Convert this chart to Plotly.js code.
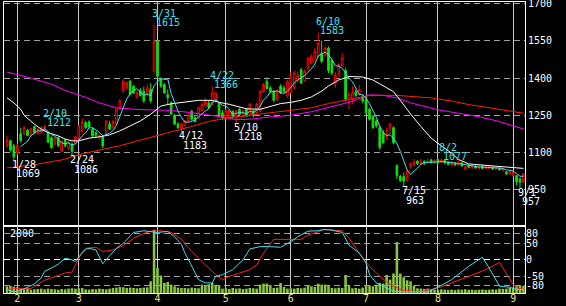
<!DOCTYPE html>
<html><head><meta charset="utf-8">
<script src="https://cdn.plot.ly/plotly-3.0.1.min.js"></script>
<style>html,body{margin:0;padding:0;background:#000;}#chart{width:566px;height:306px;}</style>
</head><body><div id="chart"></div>
<script>
// month ticks (trading-day index of first day of month)
const monthIdx = [3,21,44,64,83,105,126,148];
const monthLabels = ['2','3','4','5','6','7','8','9'];

// daily OHLC
const opens = [1127,1147,1127,1098,1176,1176,1190,1171,1205,1176,
1180,1190,1176,1160,1134,1160,1106,1150,1118,1134,
1136,1158,1185,1220,1223,1194,1180,1160,1163,1176,
1215,1200,1215,1278,1350,1362,1387,1367,1322,1350,
1347,1333,1354,1427,1550,1398,1374,1333,1300,1250,
1215,1195,1210,1228,1266,1240,1240,1270,1290,1300,
1294,1310,1300,1260,1240,1245,1265,1240,1274,1245,
1274,1254,1267,1260,1267,1345,1387,1360,1347,1313,
1367,1360,1327,1340,1360,1390,1433,1390,1440,1460,
1480,1487,1500,1490,1520,1470,1375,1414,1450,1430,
1312,1314,1345,1334,1327,1314,1274,1247,1227,1200,
1180,1165,1198,1200,1047,1005,1003,988,1040,1048,
1065,1052,1065,1058,1070,1058,1072,1060,1068,1062,
1050,1058,1050,1058,1032,1048,1038,1046,1036,1044,
1036,1036,1040,1032,1036,1028,1022,1014,1008,1007,
994,980];
const highs = [1168,1152,1135,1136,1200,1207,1195,1200,1208,1200,
1206,1212,1185,1165,1162,1165,1150,1155,1145,1140,
1167,1210,1238,1228,1230,1200,1185,1175,1170,1230,
1228,1232,1280,1315,1395,1387,1392,1372,1350,1360,
1365,1375,1380,1615,1552,1403,1380,1353,1305,1255,
1222,1220,1232,1258,1272,1247,1285,1305,1320,1310,
1366,1345,1305,1270,1275,1274,1270,1272,1280,1272,
1280,1300,1272,1300,1352,1380,1403,1368,1352,1355,
1375,1370,1392,1425,1430,1425,1440,1432,1485,1495,
1520,1583,1550,1530,1527,1478,1425,1460,1500,1440,
1345,1367,1355,1372,1332,1318,1280,1252,1232,1207,
1190,1200,1220,1205,1053,1010,1020,1030,1060,1075,
1070,1074,1068,1075,1075,1072,1075,1077,1072,1065,
1065,1062,1068,1062,1045,1052,1050,1052,1048,1050,
1046,1048,1044,1042,1040,1038,1025,1030,1024,1010,
998,1016];
const lows = [1118,1103,1069,1092,1140,1171,1165,1168,1175,1172,
1178,1185,1138,1115,1128,1122,1100,1120,1110,1086,
1130,1150,1180,1195,1198,1160,1160,1150,1117,1170,
1190,1195,1210,1272,1340,1355,1330,1335,1316,1325,
1300,1325,1300,1420,1400,1360,1336,1293,1250,1210,
1195,1183,1205,1222,1228,1220,1235,1265,1282,1275,
1290,1300,1240,1230,1235,1234,1235,1218,1248,1240,
1242,1250,1242,1255,1262,1340,1352,1338,1303,1307,
1335,1340,1320,1335,1353,1380,1375,1385,1430,1455,
1470,1480,1460,1485,1420,1412,1360,1405,1445,1305,
1275,1294,1322,1328,1300,1255,1228,1195,1200,1110,
1135,1150,1175,1133,993,980,963,983,1035,1045,
1050,1050,1048,1055,1055,1053,1055,1058,1052,1048,
1045,1045,1047,1042,1030,1036,1035,1034,1033,1032,
1033,1033,1030,1029,1027,1025,1010,1010,1004,967,
957,976];
const closes = [1150,1110,1083,1128,1148,1200,1168,1195,1180,1194,
1200,1205,1142,1120,1158,1127,1145,1127,1140,1105,
1163,1207,1222,1200,1203,1167,1170,1168,1127,1225,
1195,1225,1275,1308,1388,1380,1335,1340,1340,1330,
1307,1360,1307,1547,1407,1367,1340,1320,1255,1215,
1200,1215,1228,1250,1234,1225,1280,1293,1305,1280,
1340,1340,1247,1240,1270,1268,1245,1267,1254,1267,
1247,1294,1247,1294,1347,1375,1358,1345,1310,1350,
1340,1345,1387,1405,1420,1410,1380,1427,1480,1487,
1507,1540,1467,1520,1430,1420,1412,1454,1480,1315,
1333,1340,1330,1353,1307,1260,1234,1200,1207,1120,
1140,1175,1214,1140,1007,987,985,1027,1055,1062,
1055,1062,1058,1064,1060,1068,1060,1070,1058,1052,
1060,1050,1058,1046,1043,1040,1046,1038,1044,1036,
1042,1044,1033,1038,1030,1034,1014,1026,1020,982,
980,1013];
const volumes = [200,210,190,170,
120,110,130,100,110,120,130,
110,130,120,110,100,120,110,130,140,130,
140,150,110,100,120,110,130,120,110,130,
150,160,180,170,150,160,150,140,150,160,170,350,
1890,
750,520,300,330,250,200,160,150,
150,140,160,150,140,
250,240,260,300,230,230,
130,140,120,150,130,140,120,130,150,140,130,
250,280,280,230,
150,160,
300,180,
130,140,130,150,140,160,
230,200,
180,280,250,
250,230,
150,140,160,150,
540,
230,
140,150,130,160,
230,220,200,250,
300,280,
540,400,580,1520,580,470,380,350,220,
140,130,120,130,110,
100,90,110,100,95,100,90,105,100,110,95,100,90,100,105,95,100,110,100,
130,120,130,
150,160,
220,230,210];

// moving averages
const whiteIdx = [0,2,4,5,8,10,12,15,17,19,21,24,27,30,33,36,39,42,45,48,51,54,56,60,62,65,70,74,77,80,83,86,89,92,94,97,100,104,107,110,113,115,118,121,124,127,130,132,135,141,147,151];
const whiteVal = [1320,1300,1274,1250,1214,1194,1180,1167,1154,1147,1147,1158,1163,1171,1187,1207,1227,1254,1287,1296,1302,1308,1310,1310,1302,1294,1276,1274,1287,1297,1302,1310,1324,1347,1368,1392,1406,1404,1392,1370,1345,1310,1255,1205,1158,1127,1097,1072,1054,1047,1041,1036];
const redIdx = [0,8,16,21,27,33,39,45,50,54,59,65,71,77,83,89,94,100,106,114,124,130,135,143,151];
const redVal = [1038,1051,1070,1091,1110,1127,1150,1171,1190,1205,1225,1240,1250,1260,1268,1280,1297,1315,1330,1330,1320,1307,1293,1276,1258];
const magIdx = [0,6,13,17,23,27,32,37,43,47,53,58,62,67,71,77,83,89,94,100,104,106,110,114,118,122,126,132,138,143,147,151];
const magVal = [1424,1403,1375,1350,1322,1300,1280,1274,1271,1270,1262,1254,1245,1232,1234,1243,1250,1264,1280,1302,1322,1332,1330,1320,1300,1285,1272,1258,1244,1228,1213,1195];

// oscillator (lower panel)
const oscCyanIdx = [0,2,4,6,8,10,11,13,15,17,19,20,21,23,24,26,27,28,30,32,34,36,37,40,42,44,47,49,51,52,54,56,58,60,61,63,66,69,71,74,77,80,83,85,88,91,93,95,98,100,103,105,106,108,111,113,116,123,126,130,135,139,141,144,147,149,151];
const oscCyan = [-91,-98,-94,-84,-74,-56,-36,-26,-14,4,-1,-6,8,31,34,29,8,-13,11,34,49,69,82,87,85,82,85,69,46,20,-20,-61,-71,-71,-51,-46,-31,-1,32,39,39,37,54,69,86,87,91,89,82,44,19,-11,-46,-71,-86,-96,-98,-98,-84,-61,-21,7,-26,-81,-84,-91,-91];
const oscRedIdx = [0,2,7,8,11,14,17,19,20,22,23,26,28,31,34,37,40,42,45,48,51,53,56,59,61,63,65,68,71,73,75,78,83,86,88,91,92,95,98,100,103,106,109,112,116,121,126,130,135,140,144,146,148,150,151];
const oscRed = [-91,-88,-88,-81,-63,-51,-41,-38,-16,24,34,37,24,29,42,64,79,86,87,82,61,36,4,-26,-46,-61,-51,-41,-31,-16,19,61,62,61,74,84,91,89,87,64,19,-21,-51,-76,-94,-98,-86,-71,-51,-31,-9,-41,-76,-89,-89];

// swing labels
const hiIdx = [11,43,60,91,127];
const hiDate = ['2/10','3/31','4/22','6/10','8/2'];
const loIdx = [2,19,51,67,116,150];
const loDate = ['1/28','2/24','4/12','5/10','7/15','9/1'];

const CYAN = '#40e0f0';
const FONT = 'DejaVu Sans Mono';
const days = closes.map((_, i) => i);
const ma5 = closes.map((c, i) => i < 4 ? null : (closes[i]+closes[i-1]+closes[i-2]+closes[i-3]+closes[i-4]) / 5);

const traces = [
  {type:'scatter', mode:'lines', x:magIdx, y:magVal, xaxis:'x', yaxis:'y', line:{color:'#ff00ff', width:1}, hoverinfo:'skip'},
  {type:'scatter', mode:'lines', x:redIdx, y:redVal, xaxis:'x', yaxis:'y', line:{color:'#ff2000', width:1}, hoverinfo:'skip'},
  {type:'scatter', mode:'lines', x:whiteIdx, y:whiteVal, xaxis:'x', yaxis:'y', line:{color:'#ffffff', width:1}, hoverinfo:'skip'},
  {type:'candlestick', x:days, open:opens, high:highs, low:lows, close:closes, xaxis:'x', yaxis:'y',
   increasing:{line:{color:'#ff0000', width:1}, fillcolor:'#000000'},
   decreasing:{line:{color:'#10e010', width:1}, fillcolor:'#10e010'},
   whiskerwidth:0, hoverinfo:'skip'},
  {type:'scatter', mode:'lines', x:days, y:ma5, xaxis:'x', yaxis:'y', line:{color:CYAN, width:1}, hoverinfo:'skip'},
  {type:'bar', x:days, y:volumes, xaxis:'x', yaxis:'y2', width:0.75, marker:{color:'#8cc640', line:{width:0}}, hoverinfo:'skip'},
  {type:'scatter', mode:'lines', x:oscRedIdx, y:oscRed, xaxis:'x', yaxis:'y3', line:{color:'#ff2020', width:1}, hoverinfo:'skip'},
  {type:'scatter', mode:'lines', x:oscCyanIdx, y:oscCyan, xaxis:'x', yaxis:'y3', line:{color:CYAN, width:1}, hoverinfo:'skip'},
  {type:'scatter', mode:'lines', x:[0], y:[0], xaxis:'x', yaxis:'y4', line:{width:0}, hoverinfo:'skip'}
];

const annotations = [];
hiIdx.forEach((i, k) => {
  annotations.push({x:i, y:highs[i], xref:'x', yref:'y', text:hiDate[k], showarrow:false, xanchor:'left', yanchor:'middle', xshift:-4, yshift:11, font:{family:FONT, size:10, color:CYAN}});
  annotations.push({x:i, y:highs[i], xref:'x', yref:'y', text:String(highs[i]), showarrow:false, xanchor:'left', yanchor:'middle', xshift:0, yshift:2, font:{family:FONT, size:10, color:CYAN}});
});
loIdx.forEach((i, k) => {
  annotations.push({x:i, y:lows[i], xref:'x', yref:'y', text:loDate[k], showarrow:false, xanchor:'left', yanchor:'middle', xshift:-4, yshift:-4, font:{family:FONT, size:10, color:'#ffffff'}});
  annotations.push({x:i, y:lows[i], xref:'x', yref:'y', text:String(lows[i]), showarrow:false, xanchor:'left', yanchor:'middle', xshift:0, yshift:-13.5, font:{family:FONT, size:10, color:'#ffffff'}});
});
annotations.push({x:0, y:0.2302, xref:'paper', yref:'paper', text:'2000', showarrow:false, xanchor:'left', yanchor:'top', xshift:4, yshift:0, font:{family:FONT, size:10, color:'#ffffff'}});

const DASH = '6px,4px';
const layout = {
  width:566, height:306, margin:{l:4, r:41, t:2, b:13, pad:0},
  paper_bgcolor:'#000000', plot_bgcolor:'#000000', showlegend:false, hovermode:false,
  font:{family:FONT, size:10, color:'#ffffff'},
  xaxis:{range:[-0.88,151.46], anchor:'y2', tickmode:'array', tickvals:monthIdx, ticktext:monthLabels,
    tickfont:{family:FONT, size:10, color:'#e8e48c'}, ticklabelstandoff:-4, showgrid:true, gridcolor:'#c8c8c8', gridwidth:1,
    zeroline:false, showline:true, linecolor:'#ffffff', linewidth:1, mirror:'all', ticks:'', rangeslider:{visible:false}, fixedrange:true},
  yaxis:{domain:[0.2302,1], range:[804,1706], side:'right', anchor:'x', tickmode:'array', tickvals:[950,1100,1250,1400,1550,1700],
    ticklabeloverflow:'allow',
    showgrid:true, gridcolor:'#a0a0a0', griddash:DASH, gridwidth:1, zeroline:false, showline:true, linecolor:'#ffffff', linewidth:1, mirror:'all', ticks:'',
    tickfont:{family:FONT, size:10, color:'#ffffff'}, fixedrange:true},
  yaxis2:{domain:[0,0.2302], range:[0,2000], anchor:'x', showgrid:false, zeroline:false, showticklabels:false, showline:true, linecolor:'#ffffff', linewidth:1, mirror:'all', ticks:'', fixedrange:true},
  yaxis3:{overlaying:'y2', anchor:'x', range:[-101.5,101.5], side:'right', tickmode:'array', tickvals:[-80,-50,50,80], ticktext:['-80','-50','50','80'],
    ticklabeloverflow:'allow',
    showgrid:true, gridcolor:'#a0a0a0', griddash:DASH, gridwidth:1, zeroline:false, showline:false, ticks:'', tickfont:{family:FONT, size:10, color:'#ffffff'}, fixedrange:true},
  yaxis4:{overlaying:'y2', anchor:'x', range:[-101.5,101.5], side:'right', tickmode:'array', tickvals:[0], ticktext:['0'],
    showgrid:true, gridcolor:'#ffffff', griddash:DASH, gridwidth:1, zeroline:false, showline:false, ticks:'', tickfont:{family:FONT, size:10, color:'#ffffff'}, fixedrange:true},
  annotations: annotations
};

Plotly.newPlot('chart', traces, layout, {staticPlot:true, displayModeBar:false});
</script>
</body></html>
